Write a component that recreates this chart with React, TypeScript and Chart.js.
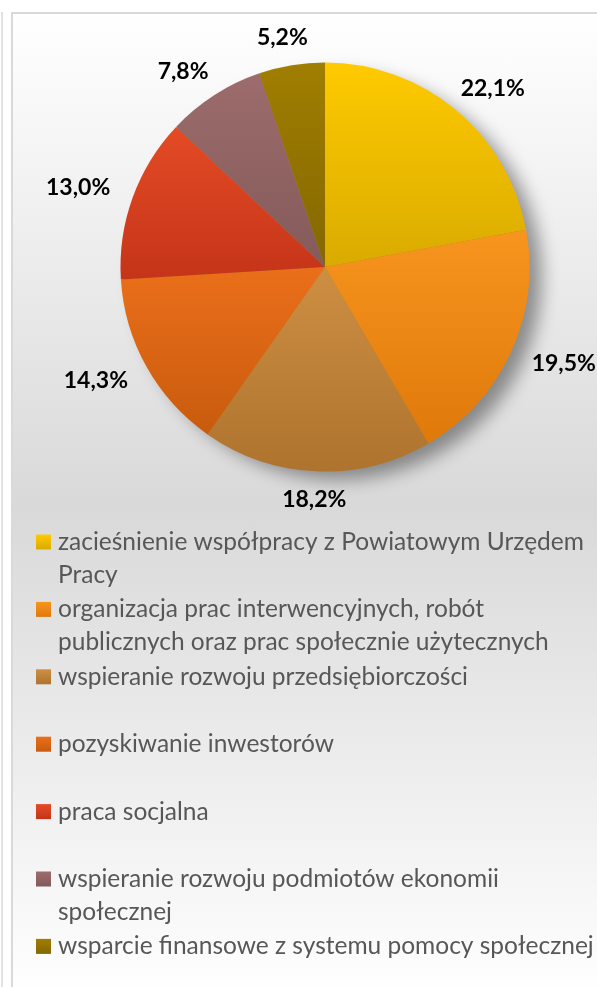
import React, { useEffect, useRef } from "react";
import { Chart, registerables } from "chart.js";

Chart.register(...registerables);

// ---- data ----
const categories: string[][] = [
  ["zacieśnienie współpracy z Powiatowym Urzędem", "Pracy"],
  ["organizacja prac interwencyjnych, robót", "publicznych oraz prac społecznie użytecznych"],
  ["wspieranie rozwoju przedsiębiorczości"],
  ["pozyskiwanie inwestorów"],
  ["praca socjalna"],
  ["wspieranie rozwoju podmiotów ekonomii", "społecznej"],
  ["wsparcie finansowe z systemu pomocy społecznej"],
];
const shares: number[] = [22.1, 19.5, 18.2, 14.3, 13.0, 7.8, 5.2];
const lightColors: string[] = ["#ffca00", "#f7951f", "#ce8f43", "#eb6f1a", "#e44b25", "#9d6c6c", "#a07e00"];
const darkColors: string[] = ["#d9ab00", "#df790a", "#ae732e", "#c85b0e", "#c53419", "#845a5a", "#846800"];

const fmt = (v: number) => v.toFixed(1).replace(".", ",") + "%";

function sliceGradient(ctx: any) {
  const i = ctx.dataIndex;
  const chart = ctx.chart;
  const area = chart.chartArea;
  if (i === undefined || !area) return lightColors[i ?? 0];
  const cx = (area.left + area.right) / 2;
  const cy = (area.top + area.bottom) / 2;
  const r = Math.min(area.width, area.height) / 2;
  const total = shares.reduce((a, b) => a + b, 0);
  let cum = 0;
  for (let k = 0; k < i; k++) cum += shares[k];
  const start = -Math.PI / 2 + (2 * Math.PI * cum) / total;
  const end = start + (2 * Math.PI * shares[i]) / total;
  const ys = [cy, cy + r * Math.sin(start), cy + r * Math.sin(end)];
  const within = (a: number) => {
    for (let t = a - 4 * Math.PI; t <= end + 0.0001; t += 2 * Math.PI) {
      if (t >= start && t <= end) return true;
    }
    return false;
  };
  if (within(Math.PI / 2)) ys.push(cy + r);
  if (within(-Math.PI / 2)) ys.push(cy - r);
  const y0 = Math.min(...ys);
  const y1 = Math.max(...ys);
  const g = chart.ctx.createLinearGradient(0, y0, 0, Math.max(y1, y0 + 1));
  g.addColorStop(0, lightColors[i]);
  g.addColorStop(1, darkColors[i]);
  return g;
}

const pieShadow = {
  id: "pieShadow",
  beforeDatasetsDraw(chart: any, _args: any, opts: any) {
    const arc = chart.getDatasetMeta(0).data[0];
    if (!arc) return;
    const { x, y, outerRadius } = arc.getProps(["x", "y", "outerRadius"], true);
    const ctx = chart.ctx;
    ctx.save();
    ctx.shadowColor = opts.color;
    ctx.shadowBlur = opts.blur;
    ctx.shadowOffsetX = opts.offsetX;
    ctx.shadowOffsetY = opts.offsetY;
    ctx.beginPath();
    ctx.arc(x, y, outerRadius - 2, 0, Math.PI * 2);
    ctx.fillStyle = "#b08030";
    ctx.fill();
    ctx.restore();
  },
};

const sliceLabels = {
  id: "sliceLabels",
  afterDatasetsDraw(chart: any, _args: any, opts: any) {
    const ctx = chart.ctx;
    const meta = chart.getDatasetMeta(0);
    const values = chart.data.datasets[0].data as number[];
    ctx.save();
    ctx.font = opts.font;
    ctx.fillStyle = opts.color;
    ctx.textAlign = "center";
    ctx.textBaseline = "middle";
    meta.data.forEach((arc: any, i: number) => {
      const { x, y, startAngle, endAngle, outerRadius } = arc.getProps(
        ["x", "y", "startAngle", "endAngle", "outerRadius"],
        true
      );
      const mid = (startAngle + endAngle) / 2;
      const px = x + Math.cos(mid) * (outerRadius + opts.offsetX);
      const py = y + Math.sin(mid) * (outerRadius + opts.offsetY);
      ctx.fillText(fmt(values[i]), px, py);
    });
    ctx.restore();
  },
};

const listLegend = {
  id: "listLegend",
  afterDraw(chart: any, _args: any, opts: any) {
    const ctx = chart.ctx;
    const labels = chart.data.labels as (string | string[])[];
    ctx.save();
    ctx.font = opts.font;
    ctx.textAlign = "left";
    ctx.textBaseline = "middle";
    let y = opts.top;
    labels.forEach((lab, i) => {
      const lines = Array.isArray(lab) ? lab : [lab];
      const b = opts.box;
      const g = ctx.createLinearGradient(0, y - b / 2, 0, y + b / 2);
      g.addColorStop(0, lightColors[i]);
      g.addColorStop(1, darkColors[i]);
      ctx.fillStyle = g;
      ctx.fillRect(opts.boxX, y - b / 2 + opts.boxShift, b, b);
      ctx.fillStyle = opts.color;
      lines.forEach((ln, k) => ctx.fillText(ln, opts.textX, y + k * opts.lineHeight));
      y += opts.itemSpacing;
    });
    ctx.restore();
  },
};

export default function App() {
  const ref = useRef<HTMLCanvasElement | null>(null);
  useEffect(() => {
    if (!ref.current) return;
    const chart = new Chart(ref.current, {
      type: "pie",
      data: {
        labels: categories as any,
        datasets: [
          {
            data: shares,
            backgroundColor: sliceGradient as any,
            borderWidth: 0,
          },
        ],
      },
      options: {
        animation: false,
        responsive: true,
        maintainAspectRatio: false,
        layout: { padding: { left: 120.5, right: 67.5, top: 62.5, bottom: 515.5 } },
        plugins: {
          legend: { display: false },
          tooltip: { enabled: false },
          pieShadow: { color: "rgba(0,0,0,0.4)", blur: 18, offsetX: 14, offsetY: 10 },
          sliceLabels: { font: "bold 23px Lato", color: "#000000", offsetX: 58, offsetY: 28 },
          listLegend: {
            font: "24.5px Lato",
            color: "#575757",
            top: 542,
            itemSpacing: 67.4,
            lineHeight: 33,
            box: 15,
            boxX: 36,
            boxShift: 0,
            textX: 58,
          },
        } as any,
      },
      plugins: [pieShadow, sliceLabels, listLegend],
    });
    return () => chart.destroy();
  }, []);

  return (
    <div
      style={{
        position: "absolute",
        left: 0,
        top: 0,
        width: 597,
        height: 987,
        overflow: "hidden",
        background: "#ffffff",
      }}
    >
      <div
        style={{ position: "absolute", left: 1, top: 12, width: 2, height: 975, background: "#e2e2e2" }}
      />
      <div
        style={{
          position: "absolute",
          left: 11,
          top: 12,
          width: 620,
          height: 990,
          boxSizing: "border-box",
          border: "2px solid #d9d9d9",
          background: "linear-gradient(to bottom, #ffffff 0%, #d9d9d9 50%, #ffffff 100%)",
        }}
      />
      <div style={{ position: "absolute", left: 0, top: 0, width: 597, height: 987 }}>
        <canvas ref={ref} />
      </div>
    </div>
  );
}
